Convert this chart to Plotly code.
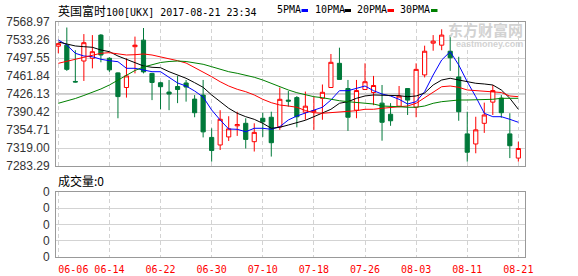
import plotly.graph_objects as go

# ---------------- data ----------------
dates = ["06-06", "06-07", "06-08", "06-09", "06-12", "06-13", "06-14", "06-15", "06-16", "06-19",
         "06-20", "06-21", "06-22", "06-23", "06-26", "06-27", "06-28", "06-29", "06-30", "07-03",
         "07-04", "07-05", "07-06", "07-07", "07-10", "07-11", "07-12", "07-13", "07-14", "07-17",
         "07-18", "07-19", "07-20", "07-21", "07-24", "07-25", "07-26", "07-27", "07-28", "07-31",
         "08-01", "08-02", "08-03", "08-04", "08-07", "08-08", "08-09", "08-10", "08-11", "08-14",
         "08-15", "08-16", "08-17", "08-18", "08-21"]

opens = [7521, 7523, 7451, 7491.6, 7497, 7543, 7497, 7468, 7439, 7520,
         7533, 7467, 7448.5, 7430, 7441, 7448, 7416, 7424, 7340, 7325,
         7341, 7363, 7368, 7331.5, 7378, 7380, 7361, 7414, 7419, 7390,
         7391, 7417.6, 7439, 7487, 7437, 7394, 7435, 7429, 7408, 7386,
         7402, 7437, 7400, 7464, 7527, 7523, 7511, 7460, 7347, 7327,
         7368, 7410, 7418, 7347, 7299]
highs = [7528, 7558, 7513, 7545, 7543, 7545, 7499, 7469, 7497, 7540,
         7557, 7468, 7450.5, 7454, 7462, 7454, 7424, 7454, 7358, 7394,
         7382, 7391, 7378, 7368, 7389, 7391, 7439, 7432, 7422, 7431,
         7421, 7445, 7505.5, 7518, 7454, 7454, 7487, 7462, 7444, 7408,
         7442, 7437, 7487, 7522, 7543, 7554.5, 7543, 7500, 7391, 7381,
         7409, 7444, 7424, 7388, 7331.5]
lows = [7507, 7472, 7449, 7452, 7477, 7489, 7470, 7378, 7419, 7467,
        7467, 7414, 7396, 7394, 7408, 7411, 7380, 7340, 7292, 7315,
        7333, 7343, 7318, 7312, 7341, 7302, 7355, 7401, 7360, 7375,
        7355, 7375, 7439, 7455, 7353, 7378, 7435, 7404, 7333.5, 7363,
        7400, 7384.5, 7380, 7459, 7512, 7513, 7472, 7373, 7292, 7308.5,
        7349, 7384.5, 7379, 7299, 7292]
closes = [7526, 7475, 7450, 7527.9, 7510, 7503.5, 7474, 7421, 7462, 7523,
          7470, 7449, 7440.6, 7426, 7435, 7440, 7389, 7351, 7314, 7376,
          7357, 7365.5, 7336, 7350, 7371, 7329.5, 7415.6, 7412, 7381, 7402,
          7393, 7429.5, 7489, 7455, 7380, 7433, 7450.5, 7443, 7370, 7373,
          7422, 7414, 7475, 7511, 7531, 7543, 7498, 7391, 7310.5, 7355,
          7384.5, 7433, 7389, 7323.5, 7318]

ma5 = [7533.3, 7523.3, 7506.9, 7501.5, 7500.1, 7495.0, 7492.2, 7490.2, 7477.1, 7477.1,
       7473.7, 7470.4, 7470.4, 7458.9, 7448.0, 7442.0, 7432.1, 7420.2, 7394.4, 7374.6,
       7356.7, 7356.1, 7351.3, 7358.1, 7358.1, 7356.1, 7361.3, 7374.6, 7382.5, 7388.4,
       7394.4, 7399.8, 7414.2, 7432.7, 7432.7, 7437.4, 7442.0, 7432.7, 7426.1, 7422.2,
       7415.6, 7406.3, 7410.9, 7430.7, 7463.8, 7493.6, 7510.1, 7483.7, 7450.5, 7420.8,
       7387.9, 7381.1, 7381.1, 7375.9, 7370.0]
ma10 = [7529.3, 7525.3, 7521.4, 7520.0, 7518.8, 7513.4, 7510.1, 7501.5, 7495.0, 7487.0,
        7481.7, 7479.1, 7478.3, 7470.4, 7463.8, 7457.3, 7448.6, 7439.4, 7424.2, 7410.9,
        7397.8, 7387.9, 7381.1, 7375.9, 7368.0, 7358.1, 7360.1, 7364.6, 7369.2, 7374.0,
        7381.1, 7387.9, 7395.8, 7407.7, 7410.9, 7417.6, 7422.2, 7424.2, 7424.2, 7424.2,
        7422.8, 7420.8, 7422.2, 7428.1, 7444.0, 7453.9, 7457.3, 7453.9, 7450.5, 7447.4,
        7446.0, 7444.0, 7434.1, 7417.6, 7395.8]
ma20 = [7487.0, 7491.6, 7495.0, 7498.9, 7503.5, 7506.9, 7508.1, 7505.5, 7503.5, 7504.1,
        7505.5, 7503.5, 7500.1, 7497.0, 7492.2, 7487.6, 7479.1, 7470.4, 7460.5, 7450.5,
        7442.0, 7435.5, 7430.7, 7424.2, 7415.6, 7408.9, 7404.3, 7402.3, 7399.8, 7393.4,
        7389.0, 7387.9, 7389.0, 7389.8, 7391.0, 7393.0, 7395.8, 7395.8, 7397.8, 7399.0,
        7399.8, 7402.3, 7407.7, 7419.2, 7430.7, 7440.6, 7442.0, 7439.4, 7434.1, 7432.7,
        7432.7, 7430.7, 7429.1, 7422.2, 7420.8]
ma30 = [7407.7, 7412.3, 7417.2, 7423.2, 7429.1, 7436.1, 7444.0, 7453.9, 7463.8, 7472.8,
        7479.7, 7484.7, 7488.6, 7490.6, 7491.6, 7490.6, 7488.2, 7485.1, 7480.3, 7475.1,
        7470.4, 7467.2, 7463.8, 7459.3, 7453.9, 7447.4, 7439.4, 7434.1, 7428.7, 7424.2,
        7420.8, 7418.8, 7415.6, 7412.8, 7410.9, 7408.9, 7407.7, 7406.3, 7402.3, 7400.9,
        7400.9, 7399.8, 7399.8, 7402.3, 7407.7, 7410.9, 7412.8, 7414.2, 7414.2, 7414.2,
        7414.2, 7415.6, 7417.6, 7417.6, 7417.6]

volume = [0, 0, 0, 0, 0, 0, 0, 0, 0, 0, 0, 0, 0, 0, 0, 0, 0, 0, 0, 0,
          0, 0, 0, 0, 0, 0, 0, 0, 0, 0, 0, 0, 0, 0, 0, 0, 0, 0, 0, 0,
          0, 0, 0, 0, 0, 0, 0, 0, 0, 0, 0, 0, 0, 0, 0]

price_ticks = [7283.29, 7319.00, 7354.71, 7390.42, 7426.13, 7461.84, 7497.55, 7533.26, 7568.97]
ref_level = 7426.13
vol_ticks = [0, 1, 2, 3, 4]
vol_tick_labels = ["0", "0", "0", "0", "0"]
x_tick_dates = ["06-06", "06-14", "06-22", "06-30", "07-10", "07-18", "07-26", "08-03", "08-11", "08-21"]

title_cn = "英国富时"
title_rest = "100[UKX] 2017-08-21 23:34"
ma_names = ["5PMA", "10PMA", "20PMA", "30PMA"]
ma_colors = ["#0000ff", "#000000", "#ff0000", "#008000"]
vol_label = "成交量:0"
wm_cn = "东方财富网"
wm_en = "eastmoney.com"

# ---------------- layout helpers ----------------
W, H = 578, 276


def px(x):
    return x / W


def py(y):
    return 1 - y / H


UP = "#ff0000"
DOWN = "#00793a"
GRID = "#d3d3d3"
FRAME = "#999999"
MONO = "DejaVu Sans Mono, Liberation Mono, monospace"
CJK = "Noto Sans CJK SC"
LABEL_FONT = dict(family="Liberation Sans, Arial", size=12, color="#333333")

fig = go.Figure()

fig.add_trace(go.Candlestick(
    x=dates, open=opens, high=highs, low=lows, close=closes,
    increasing=dict(line=dict(color=UP, width=1), fillcolor="#ffffff"),
    decreasing=dict(line=dict(color=DOWN, width=1), fillcolor=DOWN),
    whiskerwidth=0, showlegend=False, hoverinfo="skip",
    xaxis="x", yaxis="y",
))

for vals, color in zip([ma5, ma10, ma20, ma30], ma_colors):
    fig.add_trace(go.Scatter(
        x=dates, y=vals, mode="lines", line=dict(color=color, width=1),
        showlegend=False, hoverinfo="skip", xaxis="x", yaxis="y",
    ))

# volume series (all zero) on the lower panel
fig.add_trace(go.Scatter(x=dates, y=volume, mode="none", showlegend=False,
                         hoverinfo="skip", xaxis="x2", yaxis="y2"))

xdom = [px(56), px(525)]
xrange = [-0.27, 54.78]

x_tick_text = ["\u00a0" * 5 + x_tick_dates[0]] + x_tick_dates[1:]
vol_tick_text = [t + "\u200b" * k for k, t in enumerate(vol_tick_labels)]

common_x = dict(
    domain=xdom, type="category", range=xrange, tickvals=x_tick_dates,
    showgrid=True, gridcolor=GRID, griddash="4px,3px", gridwidth=1,
    showline=True, mirror=True, linecolor=FRAME, linewidth=1,
    ticks="", zeroline=False, fixedrange=True, automargin=False,
)

fig.update_layout(
    width=W, height=H,
    margin=dict(l=0, r=0, t=0, b=0, autoexpand=False),
    paper_bgcolor="#ffffff", plot_bgcolor="#ffffff",
    showlegend=False,
    xaxis=dict(**common_x, anchor="y", showticklabels=False,
               rangeslider=dict(visible=False)),
    yaxis=dict(
        anchor="x", domain=[py(166), py(22)],
        range=[price_ticks[0], price_ticks[-1]],
        tickmode="array", tickvals=price_ticks,
        ticktext=["%.2f" % v for v in price_ticks],
        showgrid=True, gridcolor=GRID, gridwidth=1,
        showline=True, mirror=True, linecolor=FRAME, linewidth=1,
        ticks="", zeroline=False, ticklabelstandoff=3, automargin=False,
        tickfont=LABEL_FONT, fixedrange=True,
    ),
    xaxis2=dict(**common_x, anchor="y2", showticklabels=True,
                ticktext=x_tick_text,
                tickfont=dict(family=MONO, size=10, color="#ff0000"),
                ticklabelstandoff=3, rangeslider=dict(visible=False)),
    yaxis2=dict(
        anchor="x2", domain=[py(257), py(192)], type="linear",
        range=[vol_ticks[0], vol_ticks[-1]], autorange=False,
        tickmode="array", tickvals=vol_ticks, ticktext=vol_tick_text,
        showgrid=True, gridcolor=GRID, gridwidth=1,
        showline=True, mirror=True, linecolor=FRAME, linewidth=1,
        ticks="", zeroline=False, ticklabelstandoff=3, automargin=False,
        tickfont=LABEL_FONT, fixedrange=True, showticklabels=True,
    ),
)

# darker reference line at previous-close level
fig.add_shape(type="line", xref="paper", yref="y", x0=xdom[0], x1=xdom[1],
              y0=ref_level, y1=ref_level, line=dict(color="#999999", width=1),
              layer="between")

annotations = []
# title
annotations.append(dict(
    xref="paper", yref="paper", x=px(56), y=py(10), xanchor="left", yanchor="middle",
    showarrow=False,
    text='<span style="font-family:Noto Sans CJK SC;font-size:12px">%s</span>%s' % (title_cn, title_rest),
    font=dict(family=MONO, size=10, color="#000000"),
))

# legend
leg_x = [275, 312.5, 355, 398]
mark_x = [301.5, 344.5, 387.5, 431]
for name, color, lx, mx in zip(ma_names, ma_colors, leg_x, mark_x):
    annotations.append(dict(
        xref="paper", yref="paper", x=px(lx), y=py(9.5), xanchor="left", yanchor="middle",
        showarrow=False, text=name, font=dict(family=MONO, size=10, color="#000000"),
    ))
    fig.add_shape(type="rect", xref="paper", yref="paper",
                  x0=px(mx), x1=px(mx + 6.5), y0=py(12), y1=py(9),
                  line=dict(width=0), fillcolor=color, layer="above")

# volume label
annotations.append(dict(
    xref="paper", yref="paper", x=px(56), y=py(180), xanchor="left", yanchor="middle",
    showarrow=False, text=vol_label, font=dict(family=CJK, size=12, color="#000000"),
))

# watermark
annotations.append(dict(
    xref="paper", yref="paper", x=px(525), y=py(29.5), xanchor="right", yanchor="middle",
    showarrow=False, text="<b>%s</b>" % wm_cn,
    font=dict(family=CJK, size=15, color="#d2d2d2"),
))
annotations.append(dict(
    xref="paper", yref="paper", x=px(525), y=py(44), xanchor="right", yanchor="middle",
    showarrow=False, text="<b>%s</b>" % wm_en,
    font=dict(family="Liberation Sans, Arial", size=9, color="#d2d2d2"),
))

fig.update_layout(annotations=annotations)

fig.write_html("out.html")
